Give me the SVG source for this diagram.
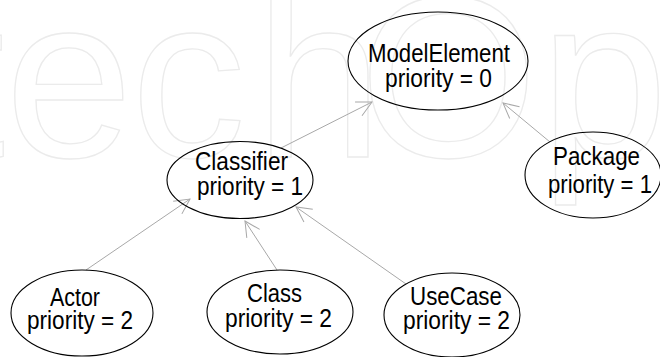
<svg xmlns="http://www.w3.org/2000/svg" width="660" height="357" viewBox="0 0 660 357">
<style>
.wm{font-family:"Liberation Sans",Arial,sans-serif;font-size:230px;fill:none;stroke:#ebebeb;stroke-width:1.3}
.node ellipse{fill:none;stroke:#000;stroke-width:1.1}
.node text{font-family:"Liberation Sans",Arial,sans-serif;font-size:25px;fill:#000;text-anchor:middle}
.edge{stroke:#a8a8a8;stroke-width:1;fill:none;marker-end:url(#open)}
</style>
<defs>
<marker id="open" viewBox="0 0 20 20" refX="18" refY="10" markerWidth="20" markerHeight="20" markerUnits="userSpaceOnUse" orient="auto">
<path d="M2.9,2.3 L18,10 L2.9,17.7" fill="none" stroke="#a8a8a8" stroke-width="1"/>
</marker>
</defs>
<rect width="660" height="357" fill="#fff"/>
<!-- background logo lettering -->
<text class="wm" x="-251 -187 -59 5 131 255 359 540 668 796" y="157">IntechOpen</text>
<g id="edges">
<path class="edge" d="M281,148 L372,102"/>
<path class="edge" d="M550,142 L503,103"/>
<path class="edge" d="M86,270 L190,199"/>
<path class="edge" d="M277,270 L245,221"/>
<path class="edge" d="M406,284 L296,207"/>
</g>
<g id="ModelElement" class="node">
<ellipse cx="438" cy="61" rx="90" ry="49"/>
<text x="439" y="62" textLength="142" lengthAdjust="spacingAndGlyphs">ModelElement</text>
<text x="438.5" y="87" textLength="107" lengthAdjust="spacingAndGlyphs">priority = 0</text>
</g>
<g id="Classifier" class="node">
<ellipse cx="240" cy="180" rx="73" ry="38.5"/>
<text x="241.5" y="170" textLength="93" lengthAdjust="spacingAndGlyphs">Classifier</text>
<text x="250" y="195" textLength="106" lengthAdjust="spacingAndGlyphs">priority = 1</text>
</g>
<g id="Package" class="node">
<ellipse cx="593" cy="175" rx="68" ry="43"/>
<text x="596.5" y="165" textLength="87" lengthAdjust="spacingAndGlyphs">Package</text>
<text x="600" y="193" textLength="104" lengthAdjust="spacingAndGlyphs">priority = 1</text>
</g>
<g id="Actor" class="node">
<ellipse cx="82" cy="313" rx="71" ry="43"/>
<text x="75" y="306" textLength="50" lengthAdjust="spacingAndGlyphs">Actor</text>
<text x="80" y="329" textLength="106" lengthAdjust="spacingAndGlyphs">priority = 2</text>
</g>
<g id="Class" class="node">
<ellipse cx="280" cy="312" rx="73" ry="42"/>
<text x="274.5" y="302" textLength="55" lengthAdjust="spacingAndGlyphs">Class</text>
<text x="278.5" y="327" textLength="107" lengthAdjust="spacingAndGlyphs">priority = 2</text>
</g>
<g id="UseCase" class="node">
<ellipse cx="452" cy="315" rx="68" ry="42"/>
<text x="456" y="305" textLength="92" lengthAdjust="spacingAndGlyphs">UseCase</text>
<text x="456.5" y="329" textLength="107" lengthAdjust="spacingAndGlyphs">priority = 2</text>
</g>
</svg>
